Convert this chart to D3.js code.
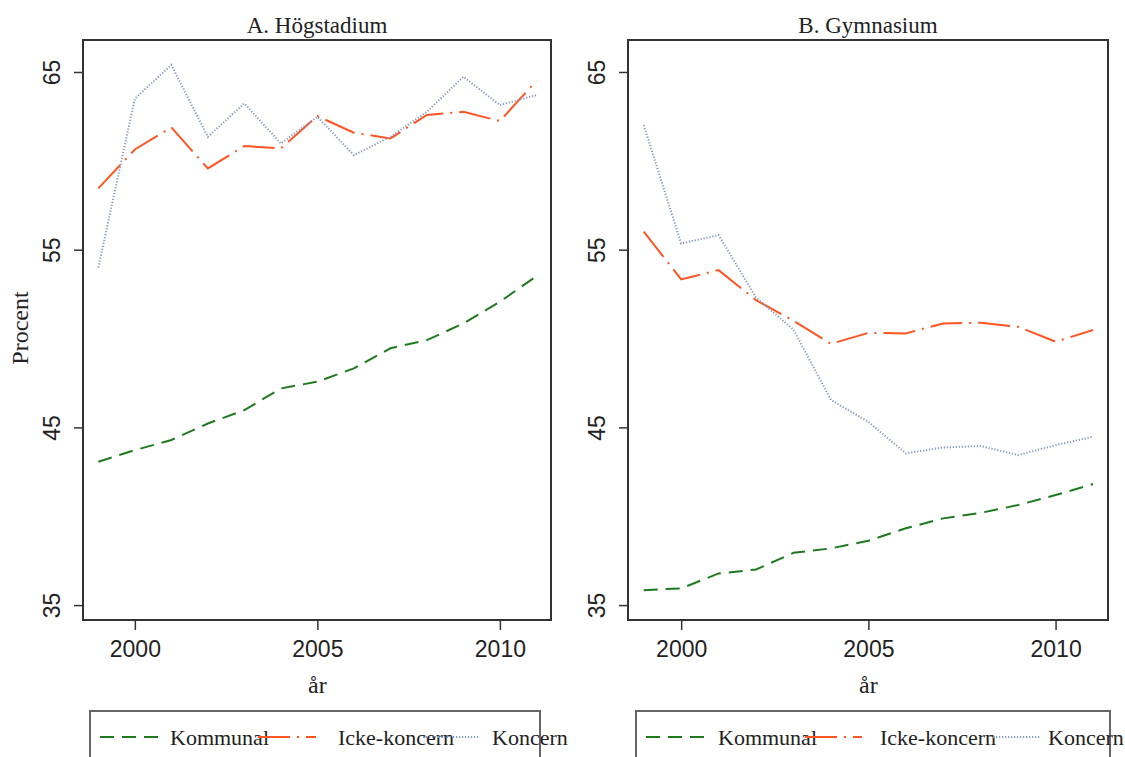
<!DOCTYPE html>
<html><head><meta charset="utf-8">
<script src="https://cdn.jsdelivr.net/npm/d3@7"></script>
<style>body{margin:0;background:#fff}svg{display:block}</style>
</head><body>
<script>
const years = [1999,2000,2001,2002,2003,2004,2005,2006,2007,2008,2009,2010,2011];
const seriesNames = ["Kommunal","Icke-koncern","Koncern"];
const panelTitles = ["A. Högstadium","B. Gymnasium"];
const yTicks = [35,45,55,65];
const xTicks = [2000,2005,2010];
// Panel A
const hogKommunal = [43.07,43.72,44.29,45.22,45.97,47.19,47.57,48.32,49.45,49.91,50.85,52.07,53.51];
const hogIcke     = [58.45,60.64,61.88,59.57,60.83,60.70,62.52,61.58,61.26,62.58,62.76,62.24,64.5];
const hogKoncern  = [54.0,63.5,65.4,61.35,63.23,60.98,62.48,60.32,61.35,62.76,64.73,63.14,63.7];
// Panel B
const gymKommunal = [35.84,35.94,36.78,37.0,37.94,38.19,38.62,39.32,39.88,40.19,40.63,41.19,41.81];
const gymIcke     = [56.01,53.33,53.85,52.16,51.0,49.7,50.32,50.29,50.85,50.89,50.66,49.82,50.48];
const gymKoncern  = [62.01,55.35,55.82,52.3,50.5,46.54,45.31,43.54,43.87,43.95,43.44,44.0,44.47];

const styles = [
  {color:"#1f7a1f", dash:"14,8", w:2},
  {color:"#ff5522", dash:"32,7,2,7", w:2},
  {color:"#8497bd", dash:"1.2,1.8", w:2}
];

const W=1125,H=757;
const svg=d3.select("body").append("svg").attr("width",W).attr("height",H);
const serif="'Liberation Serif','Times New Roman',serif";
const sans="'Liberation Sans',Arial,sans-serif";

const panels=[
  {title:panelTitles[0], data:[hogKommunal,hogIcke,hogKoncern], left:83, right:551, legL:90, legR:540,
   legItems:[[100,158,170],[258,316,338],[423,478,492]]},
  {title:panelTitles[1], data:[gymKommunal,gymIcke,gymKoncern], left:628, right:1108, legL:636, legR:1110,
   legItems:[[646,704,718],[805,862,880],[993,1040,1048]]}
];
const plotTop=40,plotBottom=620;
const y=d3.scaleLinear().domain([34.16,66.8]).range([plotBottom,plotTop]);

panels.forEach((p,pi)=>{
  const x=d3.scaleLinear().domain([1998.58,2011.4]).range([p.left,p.right]);
  const g=svg.append("g");
  p.data.forEach((vals,si)=>{
    const line=d3.line().x((d,i)=>x(years[i])).y(d=>y(d));
    g.append("path").datum(vals).attr("d",line).attr("fill","none")
     .attr("stroke",styles[si].color).attr("stroke-width",styles[si].w)
     .attr("stroke-dasharray",styles[si].dash);
  });
  g.append("rect").attr("x",p.left).attr("y",plotTop).attr("width",p.right-p.left).attr("height",plotBottom-plotTop)
   .attr("fill","none").attr("stroke","#333").attr("stroke-width",2);
  const xa=svg.append("g").attr("transform",`translate(0,${plotBottom})`)
    .call(d3.axisBottom(x).tickValues(xTicks).tickFormat(d3.format("d")).tickSize(10).tickSizeOuter(0).tickPadding(11));
  xa.select(".domain").remove();
  xa.selectAll("line").attr("stroke","#333").attr("stroke-width",1.5);
  xa.selectAll("text").attr("font-family",sans).attr("font-size",23).attr("fill","#222");
  const ya=svg.append("g").attr("transform",`translate(${p.left},0)`)
    .call(d3.axisLeft(y).tickValues(yTicks).tickSize(9).tickSizeOuter(0).tickFormat(d3.format("d")));
  ya.select(".domain").remove();
  ya.selectAll("line").attr("stroke","#333").attr("stroke-width",1.5);
  ya.selectAll("text").attr("font-family",sans).attr("font-size",23).attr("fill","#222")
    .attr("text-anchor","middle").attr("x",null)
    .attr("transform","translate(-31,0) rotate(-90)").attr("dy","0.35em");
  svg.append("text").attr("x",(p.left+p.right)/2).attr("y",33).attr("text-anchor","middle")
    .attr("font-family",serif).attr("font-size",23).attr("fill","#222").text(p.title);
  svg.append("text").attr("x",x(2005)).attr("y",693).attr("text-anchor","middle")
    .attr("font-family",serif).attr("font-size",24).attr("fill","#222").text("år");
  svg.append("rect").attr("x",p.legL).attr("y",711).attr("width",p.legR-p.legL).attr("height",80)
    .attr("fill","none").attr("stroke","#666").attr("stroke-width",2);
  p.legItems.forEach((it,si)=>{
    svg.append("line").attr("x1",it[0]).attr("x2",it[1]).attr("y1",737).attr("y2",737)
      .attr("stroke",styles[si].color).attr("stroke-width",styles[si].w).attr("stroke-dasharray",styles[si].dash);
    svg.append("text").attr("x",it[2]).attr("y",745).attr("font-family",serif).attr("font-size",22)
      .attr("fill","#222").text(seriesNames[si]);
  });
});
svg.append("text").attr("transform","translate(28,328) rotate(-90)").attr("text-anchor","middle")
  .attr("font-family",serif).attr("font-size",24).attr("fill","#222").text("Procent");
</script>
</body></html>
